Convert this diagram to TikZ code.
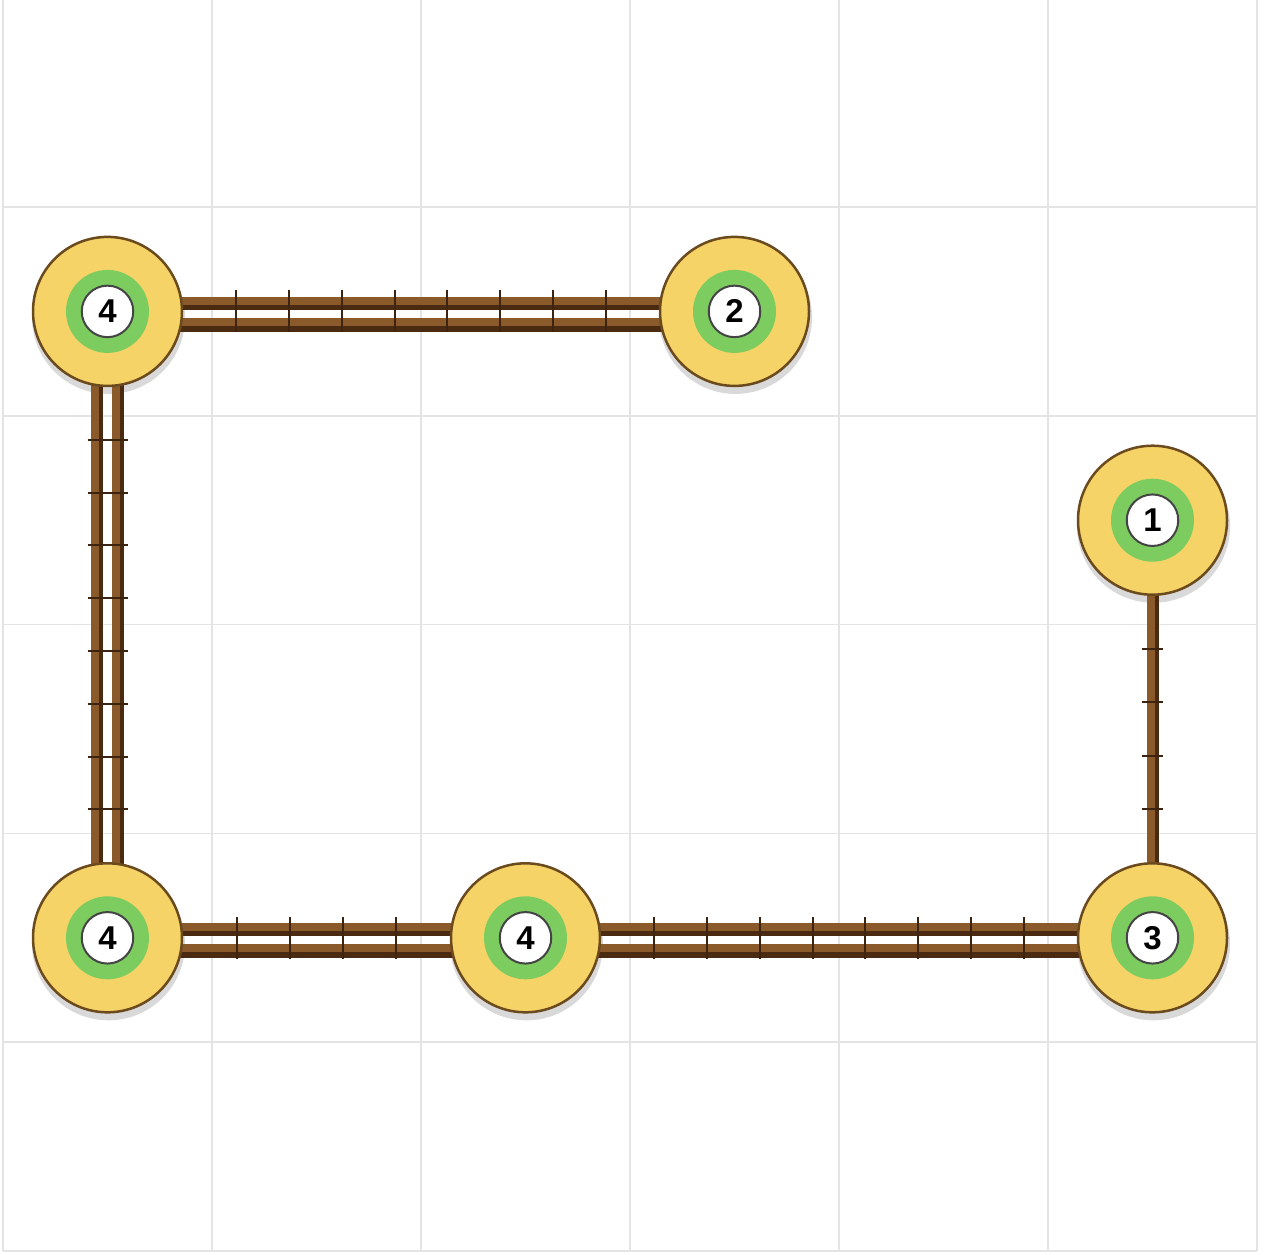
\documentclass[tikz,border=0pt]{standalone}
\usepackage{fontspec}
\setmainfont{Liberation Sans}
\usetikzlibrary{calc}
\pgfdeclarelayer{gridl}
\pgfdeclarelayer{shadowl}
\pgfdeclarelayer{edgel}
\pgfsetlayers{gridl,shadowl,edgel,main}
\definecolor{gridc}{HTML}{E4E4E4}
\definecolor{yel}{HTML}{F5D366}
\definecolor{ybord}{HTML}{6B4A1E}
\definecolor{grn}{HTML}{7DCC60}
\definecolor{wbord}{HTML}{444444}
\definecolor{barlt}{HTML}{8B5A2B}
\definecolor{bardk}{HTML}{4A2A10}
\definecolor{tickc}{HTML}{3C2410}
\definecolor{shc}{HTML}{D9D9D9}
\tikzset{
  station/.style={circle, fill=yel, draw=ybord, line width=2.5pt, minimum size=149pt, inner sep=0pt},
  ringnode/.style={circle, fill=grn, minimum size=83pt, inner sep=0pt},
  numc/.style={circle, fill=white, draw=wbord, line width=2pt, minimum size=51.5pt, inner sep=0pt,
    font=\fontsize{33}{33}\selectfont\bfseries},
  barL/.style={draw=barlt, line width=8pt},
  barD/.style={draw=bardk, line width=8pt},
  tickl/.style={draw=tickc, line width=2pt},
  gridline/.style={draw=gridc, line width=1.5pt},
  shadowfill/.style={fill=shc},
}
\newcommand\myHedge[3]{%
  \draw[barD] ($(#1)+(0,-5.4)$) -- ($(#2)+(0,-5.4)$);
  \draw[barD] ($(#1)+(0,16.1)$) -- ($(#2)+(0,16.1)$);
  \draw[barL] ($(#1)+(0,-10.9)$) -- ($(#2)+(0,-10.9)$);
  \draw[barL] ($(#1)+(0,10.6)$) -- ($(#2)+(0,10.6)$);
  \foreach \i in {1,...,\numexpr#3-1\relax}{
    \draw[tickl] ($(#1.east)!\i/#3!(#2.west)$) ++(0,-21) -- ++(0,42);
  }
}
\newcommand\myVedge[3]{%
  \draw[barD] ($(#1)+(-8.7,0)$) -- ($(#2)+(-8.7,0)$);
  \draw[barD] ($(#1)+(12.1,0)$) -- ($(#2)+(12.1,0)$);
  \draw[barL] ($(#1)+(-12.2,0)$) -- ($(#2)+(-12.2,0)$);
  \draw[barL] ($(#1)+(8.6,0)$) -- ($(#2)+(8.6,0)$);
  \foreach \i in {1,...,\numexpr#3-1\relax}{
    \draw[tickl] ($(#1.south)!\i/#3!(#2.north)$) ++(-20,0) -- ++(40,0);
  }
}
\newcommand\myVsingle[3]{%
  \draw[barD] ($(#1)+(2.5,0)$) -- ($(#2)+(2.5,0)$);
  \draw[barL] ($(#1)+(-1.8,0)$) -- ($(#2)+(-1.8,0)$);
  \foreach \i in {1,...,\numexpr#3-1\relax}{
    \draw[tickl] ($(#1.south)!\i/#3!(#2.north)$) ++(-10.5,0) -- ++(21,0);
  }
}
\begin{document}
\begin{tikzpicture}[x=1pt,y=-1pt]
\useasboundingbox (0,0) rectangle (1265,1254);
% stations
\node[station] (n1) at (107.5,311.4) {};
\node[station] (n2) at (734.5,311.4) {};
\node[station] (n3) at (1152.5,520.2) {};
\node[station] (n4) at (107.5,937.8) {};
\node[station] (n5) at (525.5,937.8) {};
\node[station] (n6) at (1152.5,937.8) {};
\foreach \n/\t in {n1/4,n2/2,n3/1,n4/4,n5/4,n6/3}{
  \node[ringnode] (\n r) at (\n) {};
  \node[numc] (\n t) at (\n) {\t};
}
\begin{pgfonlayer}{gridl}
  \fill[white] (0,0) rectangle (1265,1254);
  \foreach \k in {0,...,6}{\draw[gridline] ({3+209*\k},0) -- ({3+209*\k},1251);}
  \foreach \k in {0,...,5}{\draw[gridline] (3,{207+208.8*\k}) -- (1257,{207+208.8*\k});}
\end{pgfonlayer}
\begin{pgfonlayer}{shadowl}
  \foreach \n in {n1,n2,n3,n4,n5,n6}{
    \fill[shadowfill] ($(\n)+(1,6)$) circle (76.5);
  }
\end{pgfonlayer}
\begin{pgfonlayer}{edgel}
  \myHedge{n1}{n2}{9}
  \myVedge{n1}{n4}{9}
  \myHedge{n4}{n5}{5}
  \myHedge{n5}{n6}{9}
  \myVsingle{n3}{n6}{5}
\end{pgfonlayer}
\end{tikzpicture}
\end{document}
